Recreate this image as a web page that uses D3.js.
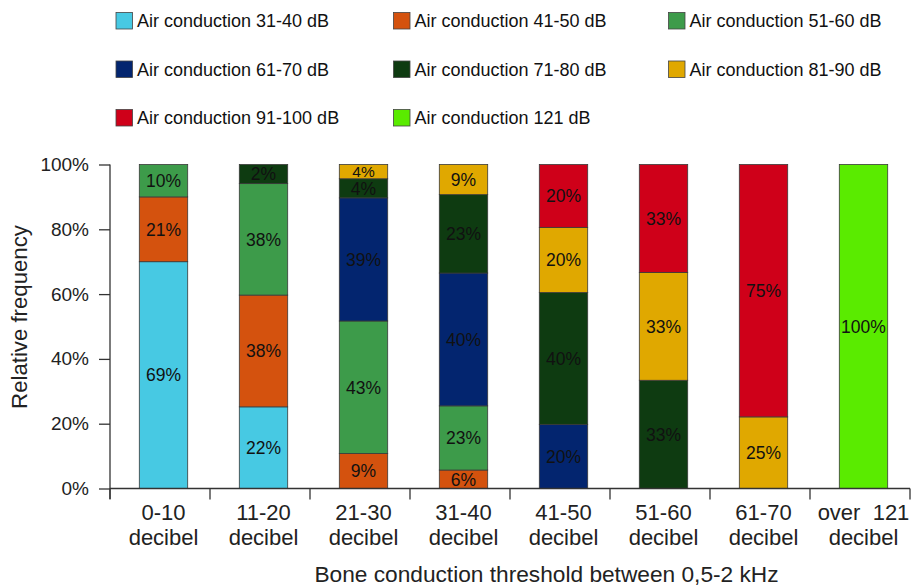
<!DOCTYPE html>
<html><head><meta charset="utf-8">
<script src="https://cdn.jsdelivr.net/npm/d3@7"></script>
<style>body{margin:0;background:#fff}svg{display:block;font-family:Arial,"Liberation Sans",sans-serif}</style>
</head><body><svg id="c" width="912" height="587"></svg>
<script>
const categories = [["0-10","decibel"],["11-20","decibel"],["21-30","decibel"],["31-40","decibel"],["41-50","decibel"],["51-60","decibel"],["61-70","decibel"],["over  121","decibel"]];
const seriesNames = ["Air conduction 31-40 dB","Air conduction 41-50 dB","Air conduction 51-60 dB","Air conduction 61-70 dB","Air conduction 71-80 dB","Air conduction 81-90 dB","Air conduction 91-100 dB","Air conduction 121 dB"];
const colors = ["#47c9e3","#d4520e","#3d9b4a","#03256f","#0e3b11","#e0a800","#cf0019","#5aeb00"];
// segment heights (%) as drawn
const s31_40  = [70, 25.2, 0, 0, 0, 0, 0, 0];
const s41_50  = [20, 34.5, 10.8, 5.7, 0, 0, 0, 0];
const s51_60  = [10, 34.4, 40.9, 19.8, 0, 0, 0, 0];
const s61_70  = [0, 0, 38.0, 41.0, 19.8, 0, 0, 0];
const s71_80  = [0, 5.9, 5.9, 24.2, 40.7, 33.4, 0, 0];
const s81_90  = [0, 0, 4.4, 9.3, 20.1, 33.3, 22.1, 0];
const s91_100 = [0, 0, 0, 0, 19.4, 33.3, 77.9, 0];
const s121    = [0, 0, 0, 0, 0, 0, 0, 100];
// printed labels
const l31_40  = ["69%","22%","","","","","",""];
const l41_50  = ["21%","38%","9%","6%","","","",""];
const l51_60  = ["10%","38%","43%","23%","","","",""];
const l61_70  = ["","","39%","40%","20%","","",""];
const l71_80  = ["","2%","4%","23%","40%","33%","",""];
const l81_90  = ["","","4%","9%","20%","33%","25%",""];
const l91_100 = ["","","","","20%","33%","75%",""];
const l121    = ["","","","","","","","100%"];
const yTicks = [0,20,40,60,80,100];

const values = [s31_40,s41_50,s51_60,s61_70,s71_80,s81_90,s91_100,s121];
const labels = [l31_40,l41_50,l51_60,l61_70,l71_80,l81_90,l91_100,l121];

const svg = d3.select("#c");
const catKeys = categories.map((c,i)=>i);
const table = catKeys.map(i => {
  const o = {cat:i};
  seriesNames.forEach((s,j)=>{ o[s] = values[j][i]; });
  return o;
});
const stack = d3.stack().keys(seriesNames)(table);

const y = d3.scaleLinear().domain([0,100]).range([488.5,164.5]);
const xAxisScale = d3.scaleBand().domain(catKeys).range([110,910]);
const xBar = d3.scaleBand().domain(catKeys).range([113.5,913.5]).paddingInner(0.516).paddingOuter(0.258);

// bars
const g = svg.append("g");
stack.forEach((layer,j)=>{
  layer.forEach((d,i)=>{
    if (d[1]-d[0] <= 0) return;
    g.append("rect")
      .attr("x", xBar(i)).attr("width", xBar.bandwidth())
      .attr("y", y(d[1])).attr("height", y(d[0])-y(d[1]))
      .attr("fill", colors[j]).attr("stroke","#3a3a3a").attr("stroke-width",0.8);
  });
});
stack.forEach((layer,j)=>{
  layer.forEach((d,i)=>{
    const t = labels[j][i];
    if (!t) return;
    const h = y(d[0])-y(d[1]);
    g.append("text")
      .attr("x", xBar(i)+xBar.bandwidth()/2)
      .attr("y", (y(d[0])+y(d[1]))/2)
      .attr("dy","0.36em")
      .attr("text-anchor","middle")
      .attr("font-size", h < 16 ? 15.5 : 17.5)
      .attr("fill","#111")
      .text(t);
  });
});

// y axis
const ya = svg.append("g").attr("transform","translate(110,0)")
  .call(d3.axisLeft(y).tickValues(yTicks).tickFormat(d=>d+"%").tickSize(11).tickSizeOuter(0));
ya.select(".domain").attr("d","M0,164.5V499").attr("stroke","#333").attr("stroke-width",1.3);
ya.selectAll(".tick line").attr("stroke","#333").attr("stroke-width",1.3);
ya.selectAll(".tick text").attr("font-size",19).attr("fill","#222").attr("x",-21).attr("font-family","Arial, Liberation Sans, sans-serif");

// x axis
const xa = svg.append("g").attr("transform","translate(0,488.5)");
xa.append("line").attr("x1",110).attr("x2",910).attr("y1",0).attr("y2",0).attr("stroke","#333").attr("stroke-width",1.3);
xa.selectAll("line.t").data(catKeys.concat([categories.length])).enter().append("line")
  .attr("x1",d=> d<categories.length ? xAxisScale(d) : xAxisScale.range()[1])
  .attr("x2",d=> d<categories.length ? xAxisScale(d) : xAxisScale.range()[1])
  .attr("y1",0).attr("y2",11).attr("stroke","#333").attr("stroke-width",1.3);
catKeys.forEach(i=>{
  const t = xa.append("text").attr("text-anchor","middle").attr("font-size",22).attr("fill","#222")
    .attr("x", xBar(i)+xBar.bandwidth()/2).attr("y",31).attr("xml:space","preserve").style("white-space","pre");
  t.append("tspan").attr("x", xBar(i)+xBar.bandwidth()/2).attr("dy",0).text(categories[i][0]);
  t.append("tspan").attr("x", xBar(i)+xBar.bandwidth()/2).attr("dy",25).text(categories[i][1]);
});

svg.append("text").attr("x",546.5).attr("y",582).attr("text-anchor","middle").attr("font-size",22.7).attr("fill","#222")
  .text("Bone conduction threshold between 0,5-2 kHz");
svg.append("text").attr("transform","translate(27,317) rotate(-90)").attr("text-anchor","middle").attr("font-size",22.2).attr("fill","#222")
  .text("Relative frequency");

// legend
const legX = [116,393.5,668.5], legY = [12.5,61,109.5];
seriesNames.forEach((s,j)=>{
  const lx = legX[j%3], ly = legY[Math.floor(j/3)];
  svg.append("rect").attr("x",lx).attr("y",ly).attr("width",16.5).attr("height",16.5)
    .attr("fill",colors[j]).attr("stroke","#444").attr("stroke-width",0.8);
  svg.append("text").attr("x",lx+21).attr("y",ly+14.5).attr("font-size",18).attr("fill","#111").text(s);
});
</script></body></html>
